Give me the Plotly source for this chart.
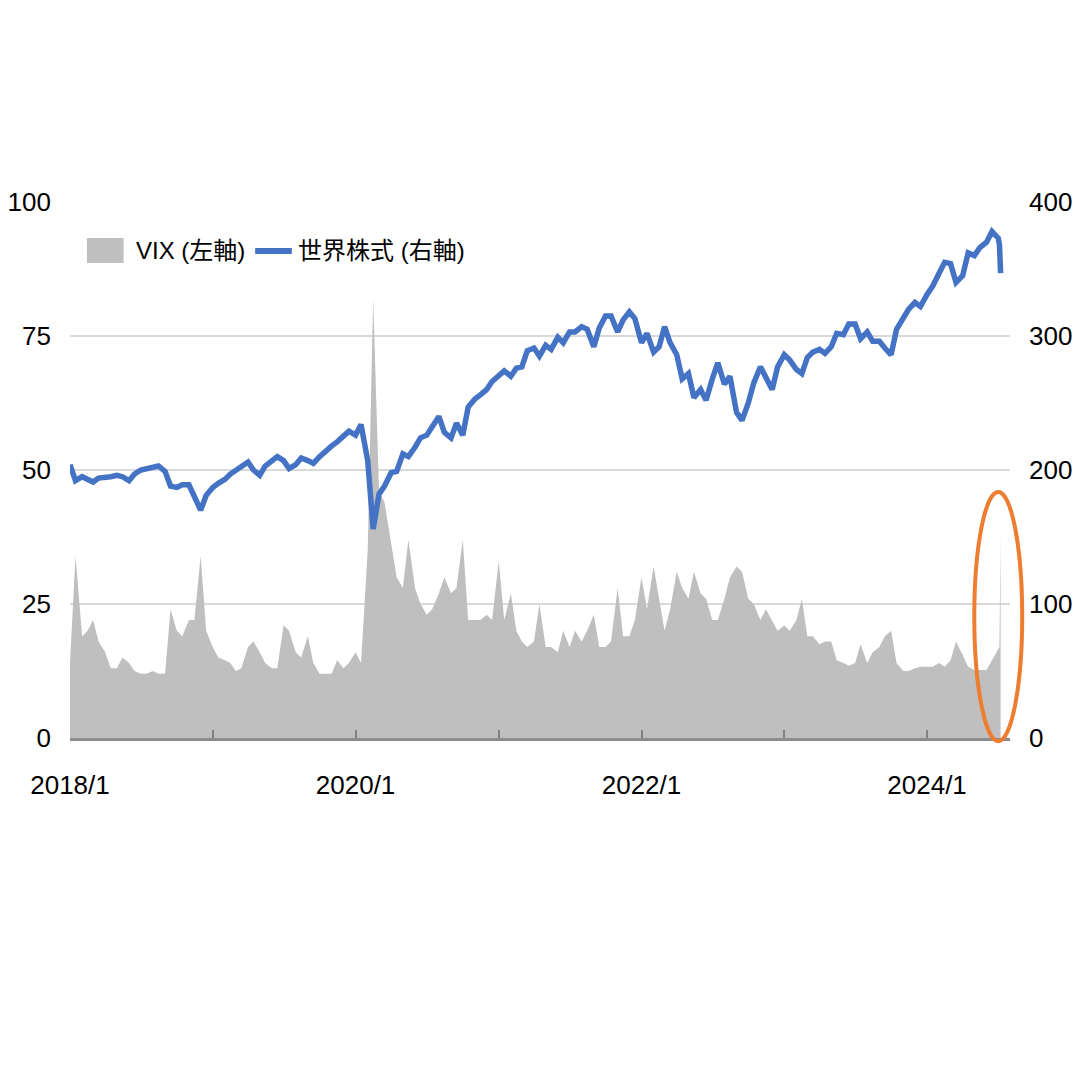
import pandas as pd
import plotly.graph_objects as go

# Semi-monthly sample dates (1st and 15th), plus the final days
GRID_DATES = pd.date_range("2018-01-01", periods=157, freq="SMS")
EXTRA_DATES = pd.to_datetime(["2024-07-04", "2024-07-07"])
DATES = GRID_DATES.append(EXTRA_DATES)

# VIX (left axis)
VIX = [
    14, 34, 19, 20, 22, 18, 16, 13, 13, 15,
    14, 12.5, 12, 12, 12.5, 12, 12, 24, 20, 19,
    22, 22, 34, 20, 17, 15, 14.5, 14, 12.5, 13,
    17, 18, 16, 14, 13, 13, 21, 20, 16, 15,
    19, 14, 12, 12, 12, 14.5, 13, 14, 16, 14,
    35, 82, 46, 44, 36, 30, 28, 37, 28, 25,
    23, 24, 27, 30, 27, 28, 37, 22, 22, 22,
    23, 22, 33, 22, 27, 20, 18, 17, 18, 25,
    17, 17, 16, 20, 17, 20, 18, 20, 23, 17,
    17, 18, 28, 19, 19, 22, 30, 24, 32, 26,
    20, 24, 31, 28, 26, 31, 27, 26, 22, 22,
    26, 30, 32, 31, 26, 25, 22, 24, 22, 20,
    21, 20, 22, 26, 19, 19, 17.5, 18, 18, 14.5,
    14, 13.5, 14, 17.5, 14, 16, 17, 19, 20, 14,
    12.5, 12.5, 13, 13.3, 13.3, 13.3, 14, 13.3, 14.5, 18,
    15.5, 13.3, 12.7, 12.7, 12.7, 14.5, 16.5,
    17, 38,
]

# World equities (right axis)
EQUITY = [
    204, 192, 195, 193, 191, 194, 194, 195, 196, 195,
    192, 197, 200, 201, 202, 203, 199, 188, 187, 189,
    189, 181, 170, 181, 187, 190, 193, 197, 200, 203,
    206, 200, 196, 203, 207, 210, 207, 201, 204, 209,
    207, 205, 210, 214, 218, 221, 226, 229, 226, 234,
    207, 156, 182, 188, 198, 199, 212, 210, 217, 224,
    226, 233, 240, 228, 224, 235, 226, 247, 253, 256,
    260, 266, 270, 274, 270, 276, 277, 289, 291, 285,
    293, 290, 299, 295, 303, 303, 307, 305, 292, 306,
    315, 315, 303, 312, 318, 313, 295, 302, 288, 292,
    307, 295, 286, 268, 272, 254, 260, 252, 268, 280,
    264, 270, 243, 237, 250, 265, 277, 268, 260, 277,
    286, 282, 275, 272, 284, 288, 290, 287, 292, 302,
    301, 309, 309, 298, 303, 296, 296, 291, 286, 305,
    313, 320, 325, 322, 331, 337, 347, 355, 354, 340,
    345, 362, 360, 366, 370, 378, 373,
    368, 347,
]

TICK_DATES = pd.date_range("2018-01-01", "2024-01-01", freq="YS")
TICK_TEXT = ["2018/1", "", "2020/1", "", "2022/1", "", "2024/1"]

VIX_NAME = "VIX (左軸)"
EQ_NAME = "世界株式 (右軸)"

GREY = "#BFBFBF"
BLUE = "#4472C4"
FONT = "Liberation Sans, Arial, Noto Sans CJK JP, sans-serif"

fig = go.Figure()
fig.add_trace(go.Scatter(
    x=DATES, y=VIX, name=VIX_NAME, mode="lines",
    line=dict(width=0, color=GREY),
    fill="tozeroy", fillcolor=GREY,
    yaxis="y", showlegend=False,
))
fig.add_trace(go.Scatter(
    x=DATES, y=EQUITY, name=EQ_NAME, mode="lines",
    line=dict(width=5.5, color=BLUE),
    yaxis="y2", showlegend=False,
))

# Legend drawn as key shapes + labels (positions in paper units)
legend_y = 0.9086
shapes = [
    dict(type="rect", xref="paper", yref="paper",
         x0=0.018, x1=0.057, y0=0.886, y1=0.933,
         fillcolor=GREY, line=dict(width=0)),
    dict(type="line", xref="paper", yref="paper",
         x0=0.197, x1=0.236, y0=legend_y, y1=legend_y,
         line=dict(color=BLUE, width=6)),
    dict(type="circle", xref="paper", yref="paper",
         x0=0.962, x1=1.013, y0=-0.006, y1=0.459,
         line=dict(color="#ED7D31", width=4),
         fillcolor="rgba(0,0,0,0)", layer="above"),
]
annotations = [
    dict(text=VIX_NAME, xref="paper", yref="paper", x=0.068, y=legend_y,
         xanchor="left", yanchor="middle", showarrow=False,
         font=dict(family=FONT, size=24, color="#000000")),
    dict(text=EQ_NAME, xref="paper", yref="paper", x=0.240, y=legend_y,
         xanchor="left", yanchor="middle", showarrow=False,
         font=dict(family=FONT, size=24, color="#000000")),
]

fig.update_layout(
    width=1080, height=1080,
    paper_bgcolor="white", plot_bgcolor="white",
    margin=dict(l=62, r=78, t=194, b=350),
    font=dict(family=FONT, size=26, color="#000000"),
    showlegend=False,
    shapes=shapes,
    annotations=annotations,
    xaxis=dict(
        type="date", automargin=False,
        range=["2018-01-01", "2024-07-31"],
        tickvals=TICK_DATES, ticktext=TICK_TEXT,
        ticks="inside", ticklen=8, tickwidth=1.5, tickcolor="#808080",
        showline=True, linecolor="#8C8C8C", linewidth=3,
        showgrid=False, zeroline=False,
        ticklabelstandoff=22,
        tickfont=dict(family=FONT, size=26),
    ),
    yaxis=dict(
        automargin=False,
        range=[0, 100], tickvals=[0, 25, 50, 75, 100],
        showgrid=True, gridcolor="#D9D9D9", gridwidth=2,
        zeroline=False, showline=False, ticks="",
        ticklabelstandoff=18,
        tickfont=dict(family=FONT, size=26),
    ),
    yaxis2=dict(
        automargin=False,
        range=[0, 400], tickvals=[0, 100, 200, 300, 400],
        overlaying="y", side="right",
        showgrid=False, zeroline=False, showline=False, ticks="",
        ticklabelstandoff=18,
        tickfont=dict(family=FONT, size=26),
    ),
)

fig.write_html("out.html")
